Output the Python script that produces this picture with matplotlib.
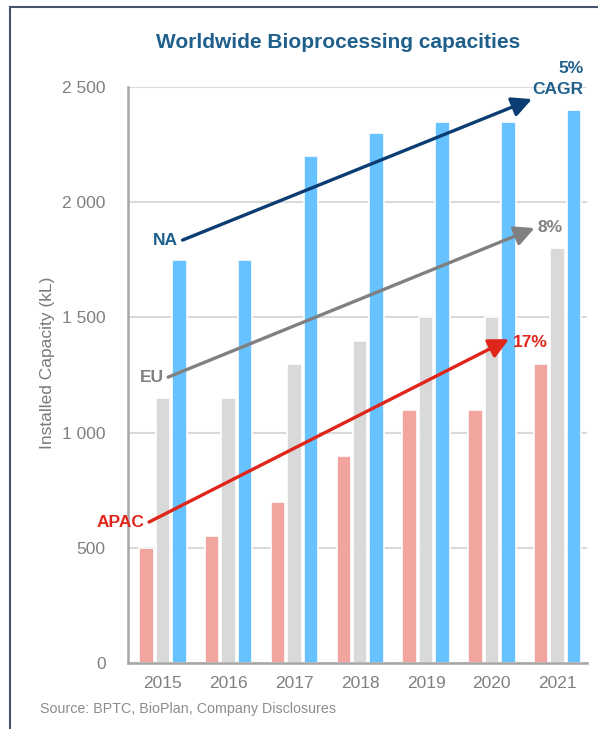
import matplotlib.pyplot as plt
import numpy as np
from matplotlib.lines import Line2D

plt.rcParams['font.family'] = ['Liberation Sans', 'DejaVu Sans']

# Data (kL)
years = ['2015', '2016', '2017', '2018', '2019', '2020', '2021']
apac = [500, 550, 700, 900, 1100, 1100, 1300]
eu = [1150, 1150, 1300, 1400, 1500, 1500, 1800]
na = [1750, 1750, 2200, 2300, 2350, 2350, 2400]
y_ticks = [0, 500, 1000, 1500, 2000, 2500]
y_tick_labels = ['0', '500', '1 000', '1 500', '2 000', '2 500']

# Colours
c_apac, c_eu, c_na = '#f2a59f', '#d9d9d9', '#66c3ff'
c_title = '#1f5f8b'
c_tick = '#808080'

fig = plt.figure(figsize=(5.98, 7.29), dpi=100)
ax = fig.add_axes([0.214, 0.0905, 0.768, 0.790])

x = np.arange(len(years))
w = 0.22
off = 0.25
ax.bar(x - off, apac, w, color=c_apac, edgecolor='white', linewidth=1.2, zorder=3)
ax.bar(x, eu, w, color=c_eu, edgecolor='white', linewidth=1.2, zorder=3)
ax.bar(x + off, na, w, color=c_na, edgecolor='white', linewidth=1.2, zorder=3)

ax.set_xlim(-0.53, 6.45)
ax.set_ylim(0, 2500)
ax.set_yticks(y_ticks)
ax.set_yticklabels(y_tick_labels)
ax.set_xticks(x)
ax.set_xticklabels(years)
ax.tick_params(axis='both', length=0, labelsize=12.5, colors=c_tick)
ax.tick_params(axis='y', pad=16)
ax.tick_params(axis='x', pad=9)
ax.yaxis.grid(True, color='#d9d9d9', linewidth=1.5, zorder=0)
ax.set_axisbelow(True)
for s in ['top', 'right']:
    ax.spines[s].set_visible(False)
for s in ['left', 'bottom']:
    ax.spines[s].set_color('#a6a6a6')
    ax.spines[s].set_linewidth(1.8)
    ax.spines[s].set_zorder(4)
ax.set_ylabel('Installed Capacity (kL)', fontsize=12.5, color='#7a7a7a')
ax.yaxis.set_label_coords(-0.158, 0.522)

fig.text(0.565, 0.942, 'Worldwide Bioprocessing capacities', ha='center', va='center',
         fontsize=15, fontweight='bold', color=c_title)

# CAGR arrows: (label, start, end, colour, text colour)
arrows = [
    ('NA', (0.30, 1836), (5.61, 2448), '#0b3d73', c_title),
    ('EU', (0.08, 1241), (5.65, 1888), '#808080', '#808080'),
    ('APAC', (-0.21, 612), (5.26, 1406), '#e0251b', '#e0251b'),
]
for label, p0, p1, col, tcol in arrows:
    ax.annotate('', xy=p1, xytext=p0, zorder=5, annotation_clip=False,
                arrowprops=dict(arrowstyle='-|>,head_length=1.2,head_width=0.6',
                                color=col, lw=2.4, shrinkA=0, shrinkB=0))
    ax.text(p0[0] - 0.07, p0[1], label, ha='right', va='center', fontsize=12.5,
            fontweight='bold', color=tcol, zorder=6)

ax.text(6.39, 2535, '5%\nCAGR', ha='right', va='center', fontsize=12.5, fontweight='bold',
        color=c_title, linespacing=1.45, clip_on=False)
ax.text(5.70, 1890, '8%', ha='left', va='center', fontsize=12.5, fontweight='bold',
        color='#808080')
ax.text(5.32, 1390, '17%', ha='left', va='center', fontsize=12.5, fontweight='bold',
        color='#e0251b')

fig.text(0.067, 0.027, 'Source: BPTC, BioPlan, Company Disclosures', ha='left', va='center',
         fontsize=10.3, color='#8c8c8c')

# frame lines (top and left)
fig.add_artist(Line2D([0.016, 1.0], [0.990, 0.990], color='#44546a', lw=1.5,
                      transform=fig.transFigure))
fig.add_artist(Line2D([0.016, 0.016], [0.0, 0.990], color='#44546a', lw=1.5,
                      transform=fig.transFigure))

fig.savefig('out.png', dpi=100)
